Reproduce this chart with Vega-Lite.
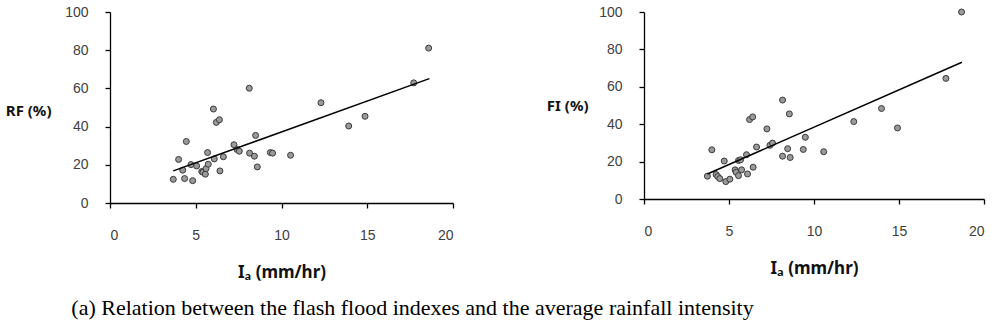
{
  "$schema": "https://vega.github.io/schema/vega-lite/v6.json",
  "padding": {"left": 5, "top": 5, "right": 5, "bottom": 5},
  "background": "white",
  "bounds": "flush",
  "spacing": 191,
  "config": {
    "view": {"stroke": null},
    "axis": {
      "grid": false,
      "domainColor": "#000000",
      "domainWidth": 1.3,
      "tickColor": "#000000",
      "tickWidth": 1.3,
      "tickSize": 5,
      "labelOverlap": false,
      "labelFont": "Liberation Sans",
      "labelFontSize": 14,
      "labelColor": "#404040",
      "titleFont": "Noto Sans",
      "titleFontWeight": "bold",
      "titleFontSize": 15,
      "titleColor": "#111111"
    }
  },
  "datasets": {
    "rf": [
      {"Ia": 3.69, "RF": 12.4}, {"Ia": 4.0, "RF": 22.8}, {"Ia": 4.24, "RF": 17.2}, {"Ia": 4.35, "RF": 12.8},
      {"Ia": 4.45, "RF": 32.2}, {"Ia": 4.72, "RF": 20.1}, {"Ia": 4.82, "RF": 11.7}, {"Ia": 5.05, "RF": 19.4},
      {"Ia": 5.35, "RF": 16.5}, {"Ia": 5.42, "RF": 16.1}, {"Ia": 5.56, "RF": 15.1}, {"Ia": 5.6, "RF": 18.0},
      {"Ia": 5.73, "RF": 20.3}, {"Ia": 5.69, "RF": 26.4}, {"Ia": 6.03, "RF": 49.2}, {"Ia": 6.08, "RF": 23.1},
      {"Ia": 6.2, "RF": 42.2}, {"Ia": 6.38, "RF": 43.6}, {"Ia": 6.41, "RF": 16.8}, {"Ia": 6.61, "RF": 24.2},
      {"Ia": 7.23, "RF": 30.5}, {"Ia": 7.41, "RF": 28.0}, {"Ia": 7.54, "RF": 27.1}, {"Ia": 8.12, "RF": 60.1},
      {"Ia": 8.14, "RF": 26.1}, {"Ia": 8.42, "RF": 24.5}, {"Ia": 8.49, "RF": 35.4}, {"Ia": 8.59, "RF": 18.9},
      {"Ia": 9.35, "RF": 26.4}, {"Ia": 9.48, "RF": 26.1}, {"Ia": 10.53, "RF": 25.0}, {"Ia": 12.3, "RF": 52.5},
      {"Ia": 13.92, "RF": 40.3}, {"Ia": 14.87, "RF": 45.4}, {"Ia": 17.71, "RF": 62.9}, {"Ia": 18.58, "RF": 81.1}
    ],
    "fi": [
      {"Ia": 3.73, "FI": 12.2}, {"Ia": 3.99, "FI": 26.3}, {"Ia": 4.24, "FI": 13.1}, {"Ia": 4.34, "FI": 12.0},
      {"Ia": 4.46, "FI": 10.9}, {"Ia": 4.72, "FI": 20.3}, {"Ia": 4.81, "FI": 9.3}, {"Ia": 5.05, "FI": 10.6},
      {"Ia": 5.36, "FI": 15.6}, {"Ia": 5.42, "FI": 14.3}, {"Ia": 5.56, "FI": 12.5}, {"Ia": 5.56, "FI": 20.6},
      {"Ia": 5.68, "FI": 21.0}, {"Ia": 5.74, "FI": 15.6}, {"Ia": 6.03, "FI": 23.7}, {"Ia": 6.09, "FI": 13.4},
      {"Ia": 6.21, "FI": 42.5}, {"Ia": 6.39, "FI": 43.9}, {"Ia": 6.42, "FI": 17.0}, {"Ia": 6.62, "FI": 27.8},
      {"Ia": 7.23, "FI": 37.5}, {"Ia": 7.41, "FI": 28.7}, {"Ia": 7.56, "FI": 29.9}, {"Ia": 8.15, "FI": 52.9},
      {"Ia": 8.15, "FI": 22.9}, {"Ia": 8.45, "FI": 26.9}, {"Ia": 8.55, "FI": 45.5}, {"Ia": 8.6, "FI": 22.2},
      {"Ia": 9.37, "FI": 26.5}, {"Ia": 9.49, "FI": 33.0}, {"Ia": 10.57, "FI": 25.3}, {"Ia": 12.34, "FI": 41.4},
      {"Ia": 13.97, "FI": 48.4}, {"Ia": 14.91, "FI": 38.0}, {"Ia": 17.76, "FI": 64.5}, {"Ia": 18.68, "FI": 100.0}
    ],
    "rfLine": [{"Ia": 3.69, "RF": 16.8}, {"Ia": 18.62, "RF": 65.1}],
    "fiLine": [{"Ia": 3.73, "FI": 13.4}, {"Ia": 18.7, "FI": 73.1}]
  },
  "title": {
    "text": "(a) Relation between the flash flood indexes and the average rainfall intensity",
    "orient": "bottom",
    "anchor": "start",
    "frame": "bounds",
    "font": "Liberation Serif",
    "fontSize": 22,
    "fontWeight": "normal",
    "color": "#000000",
    "offset": 18,
    "dx": 66
  },
  "hconcat": [
    {
      "width": 343,
      "height": 191,
      "layer": [
        {
          "data": {"name": "rf"},
          "mark": {"type": "point", "filled": true, "fill": "#9a9a9a", "stroke": "#3a3a3a", "strokeWidth": 1, "size": 36, "opacity": 1},
          "encoding": {
            "x": {
              "field": "Ia", "type": "quantitative",
              "scale": {"domain": [0, 20], "nice": false},
              "axis": {"values": [0, 5, 10, 15, 20], "title": "Iₐ (mm/hr)", "labelPadding": 20, "titlePadding": 22, "titleFontSize": 17}
            },
            "y": {
              "field": "RF", "type": "quantitative",
              "scale": {"domain": [0, 100], "nice": false},
              "axis": {"tickCount": 5, "labelOverlap": false, "title": "RF (%)", "labelPadding": 17, "titleAngle": 0, "titleAlign": "right", "titleBaseline": "middle", "titleX": -59, "titleY": 98}
            }
          }
        },
        {
          "data": {"name": "rfLine"},
          "mark": {"type": "line", "color": "#000000", "strokeWidth": 1.5},
          "encoding": {
            "x": {"field": "Ia", "type": "quantitative"},
            "y": {"field": "RF", "type": "quantitative"}
          }
        }
      ]
    },
    {
      "width": 340,
      "height": 187,
      "layer": [
        {
          "data": {"name": "fi"},
          "mark": {"type": "point", "filled": true, "fill": "#9a9a9a", "stroke": "#3a3a3a", "strokeWidth": 1, "size": 36, "opacity": 1},
          "encoding": {
            "x": {
              "field": "Ia", "type": "quantitative",
              "scale": {"domain": [0, 20], "nice": false},
              "axis": {"values": [0, 5, 10, 15, 20], "title": "Iₐ (mm/hr)", "labelPadding": 20, "titlePadding": 22, "titleFontSize": 17}
            },
            "y": {
              "field": "FI", "type": "quantitative",
              "scale": {"domain": [0, 100], "nice": false},
              "axis": {"tickCount": 5, "labelOverlap": false, "title": "FI (%)", "labelPadding": 17, "titleAngle": 0, "titleAlign": "right", "titleBaseline": "middle", "titleX": -56, "titleY": 93}
            }
          }
        },
        {
          "data": {"name": "fiLine"},
          "mark": {"type": "line", "color": "#000000", "strokeWidth": 1.5},
          "encoding": {
            "x": {"field": "Ia", "type": "quantitative"},
            "y": {"field": "FI", "type": "quantitative"}
          }
        }
      ]
    }
  ]
}
